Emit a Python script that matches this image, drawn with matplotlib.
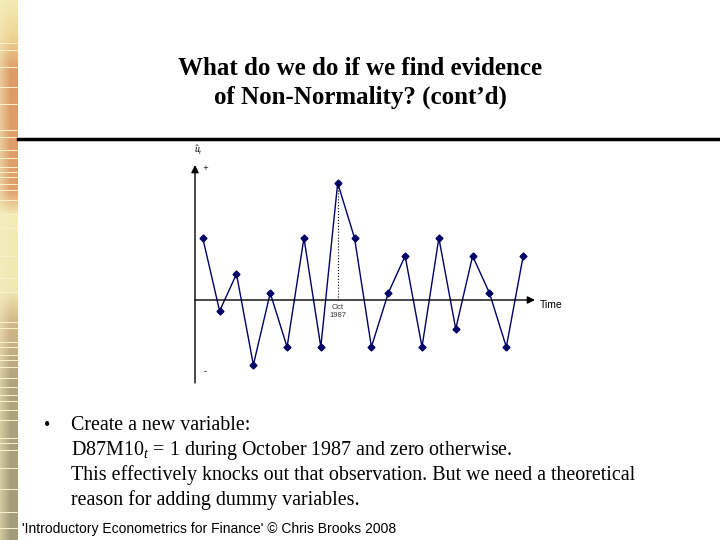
import matplotlib.pyplot as plt
import numpy as np

plt.rcParams['mathtext.fontset'] = 'custom'
plt.rcParams['mathtext.it'] = 'Liberation Serif:italic'
plt.rcParams['mathtext.rm'] = 'Liberation Serif'

# residual series (arbitrary units), Oct 1987 is obs 9
t = list(range(1, 21))
u_hat = [6.2, -1.1, 2.6, -6.5, 0.7, -4.7, 6.2, -4.7, 11.7, 6.2,
         -4.7, 0.7, 4.4, -4.7, 6.2, -2.9, 4.4, 0.7, -4.7, 4.4]
oct87 = 9

title = "What do we do if we find evidence\nof Non-Normality? (cont\u2019d)"
bullet_lines = ["Create a new variable:",
                "D87M10$_t$ = 1 during October 1987 and zero otherwise.",
                "This effectively knocks out that observation. But we need a theoretical",
                "reason for adding dummy variables."]
footer = "'Introductory Econometrics for Finance' \u00a9 Chris Brooks 2008"

W, H = 720, 540
fig = plt.figure(figsize=(7.2, 5.4), dpi=100)

# decorative strip on the left
ys = [0, 35, 70, 190, 215, 290, 320, 380, 540]
cols = np.array([[243, 234, 180], [238, 214, 150], [220, 156, 104], [222, 160, 108],
                 [244, 236, 184], [240, 232, 180], [212, 184, 140], [178, 164, 126],
                 [160, 156, 122]]) / 255
rows = np.arange(H)
col_y = np.stack([np.interp(rows, ys, cols[:, k]) for k in range(3)], axis=1)
pale = np.array([245, 238, 190]) / 255
wx = np.clip(1 - np.arange(18) / 10, 0, 1) * 0.55
strip = col_y[:, None, :] * (1 - wx[None, :, None]) + pale * wx[None, :, None]
stripes = [43, 50, 67, 87, 104, 130, 137, 150, 158, 167, 172, 177, 184, 190, 200, 214,
           228, 256, 278, 292, 322, 328, 342, 347, 355, 360, 367, 378, 387, 395, 401,
           410, 420, 438, 443, 450, 468, 489, 512, 528]
for y0 in stripes:
    strip[y0] = np.array([248, 240, 200]) / 255
sax = fig.add_axes([0, 0, 18 / W, 1])
sax.imshow(strip, aspect='auto', interpolation='nearest')
sax.axis('off')

fig.text(360 / W, 1 - 83 / H, title, ha='center', va='center', fontsize=18,
         fontweight='bold', family='Liberation Serif', linespacing=1.32)
fig.add_artist(plt.Line2D([18 / W, 1], [1 - 139 / H] * 2, color='black', lw=2.5))

# chart area
x0, x1 = 0.54, 20.7
ax = fig.add_axes([195 / W, 1 - 383 / H, 340 / W, 218 / H])
ax.set_xlim(x0, x1)
ax.set_ylim(-8.3, 13.5)
ax.axis('off')
ax.plot(t, u_hat, color='#000066', lw=1, marker='D', ms=3.5, mfc='#000066', mec='#000066')
ax.plot([oct87, oct87], [0, u_hat[oct87 - 1]], color='black', lw=0.8, ls=':')
arr = dict(arrowstyle='-|>', color='black', lw=1, mutation_scale=11, shrinkA=0, shrinkB=0)
ax.annotate('', xy=(x0, 13.5), xytext=(x0, -8.3), arrowprops=arr, annotation_clip=False)
ax.annotate('', xy=(x1, 0), xytext=(x0, 0), arrowprops=arr, annotation_clip=False)
ax.text(oct87, -0.4, 'Oct\n1987', ha='center', va='top', fontsize=5.5, color='#333333',
        family='Liberation Sans')
ax.text(x1 + 0.3, 0, 'Time', ha='left', va='top', fontsize=7.5, family='Liberation Sans')
ax.text(x0 + 0.2, 15, r'$\hat{u}_t$', ha='center', va='center', fontsize=7)
ax.text(x0 + 0.6, 13.2, '+', ha='center', va='center', fontsize=5)
ax.text(x0 + 0.6, -7.2, '-', ha='center', va='center', fontsize=6)

# bullet text
fig.text(47 / W, 1 - 426 / H, '\u2022', ha='center', va='center', fontsize=13,
         family='Liberation Serif')
for i, line in enumerate(bullet_lines):
    fig.text(71 / W, 1 - (425 + 25 * i) / H, line, ha='left', va='center', fontsize=14.4,
             family='Liberation Serif')
fig.text(22 / W, 1 - 529 / H, footer, ha='left', va='center', fontsize=10,
         family='Liberation Sans')

fig.savefig('out.png', dpi=100)
